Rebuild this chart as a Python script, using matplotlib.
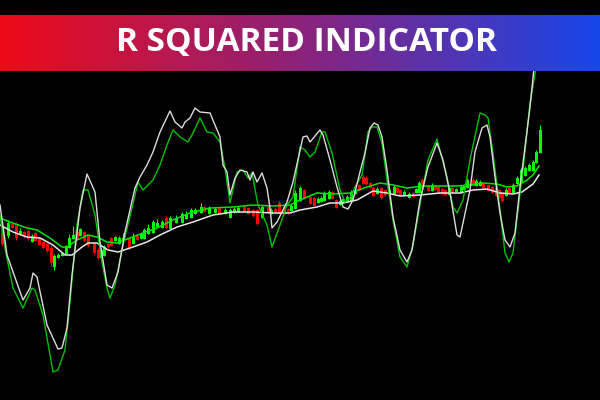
"""
R Squared indicator chart: candles, two moving averages and two oscillator lines.
Coordinates are read off the reference picture (x = bar position, y = screen level, top = 0).
"""

import matplotlib.pyplot as plt
import numpy as np
from matplotlib.colors import LinearSegmentedColormap

# ── Candles (x, open, close, high, low) ───────────────────────────────────────
candle_x = [2, 8, 12, 16, 20, 24, 28, 32, 35, 39, 43, 47, 51, 54, 58, 62, 66, 69, 73, 77,
            80, 84, 88, 94, 98, 101, 104, 108, 111, 115, 119, 123, 129, 133, 137, 141, 144, 148, 153, 157,
            162, 166, 170, 176, 182, 186, 191, 195, 201, 204, 209, 215, 219, 225, 230, 234, 238, 244, 248, 253,
            257, 262, 268, 271, 275, 279, 284, 288, 291, 295, 300, 304, 310, 314, 318, 321, 324, 329, 332, 336,
            340, 343, 347, 351, 355, 359, 363, 366, 370, 373, 377, 381, 385, 389, 394, 397, 400, 404, 409, 413,
            416, 419, 422, 428, 432, 435, 438, 442, 445, 449, 452, 456, 461, 464, 467, 473, 476, 480, 483, 488,
            492, 496, 499, 502, 506, 509, 513, 517, 521, 525, 529, 533, 536, 540]
candle_open = [230, 235, 224, 224, 233, 232, 231, 241, 233, 239, 242, 244, 248, 266, 257, 255, 253, 247, 238, 232,
               235, 232, 236, 243, 250, 257, 255, 244, 238, 240, 243, 240, 238, 243, 236, 238, 238, 233, 232, 226,
               227, 218, 228, 222, 222, 218, 217, 213, 212, 207, 213, 212, 208, 213, 217, 212, 211, 207, 208, 210,
               210, 217, 207, 213, 209, 203, 207, 209, 210, 208, 200, 190, 197, 198, 202, 201, 200, 198, 192, 200,
               204, 202, 201, 200, 193, 185, 177, 178, 183, 188, 193, 188, 190, 193, 193, 188, 190, 195, 197, 193,
               192, 192, 180, 186, 190, 186, 187, 189, 190, 194, 188, 191, 192, 189, 187, 180, 185, 185, 183, 185,
               187, 188, 190, 193, 195, 188, 192, 183, 182, 175, 170, 170, 162, 152]
candle_close = [243, 223, 227, 237, 231, 236, 238, 236, 240, 244, 247, 250, 262, 256, 255, 253, 246, 238, 235, 238,
                229, 240, 245, 252, 257, 250, 247, 246, 245, 237, 238, 238, 247, 237, 239, 234, 230, 228, 222, 223,
                222, 227, 218, 218, 214, 214, 210, 210, 207, 211, 208, 209, 213, 210, 210, 209, 208, 210, 213, 215,
                223, 207, 211, 210, 211, 212, 213, 212, 206, 193, 188, 198, 203, 205, 199, 198, 193, 192, 198, 207,
                201, 199, 197, 192, 190, 190, 183, 183, 187, 195, 189, 197, 194, 190, 187, 192, 194, 192, 194, 196,
                189, 183, 188, 190, 185, 189, 192, 193, 194, 188, 192, 189, 187, 186, 180, 185, 181, 182, 187, 190,
                192, 195, 197, 200, 190, 192, 185, 178, 170, 168, 165, 162, 152, 130]
candle_high = [228, 220, 223, 222, 228, 231, 229, 234, 232, 238, 241, 243, 245, 254, 253, 252, 245, 234, 226, 231,
               228, 231, 235, 242, 248, 248, 245, 243, 237, 236, 236, 233, 237, 233, 235, 232, 228, 224, 220, 219,
               220, 216, 216, 215, 212, 211, 208, 208, 203, 206, 206, 207, 207, 208, 208, 207, 206, 205, 207, 209,
               209, 205, 206, 208, 207, 201, 206, 208, 204, 190, 186, 189, 196, 197, 197, 196, 191, 190, 191, 199,
               199, 197, 195, 190, 188, 184, 175, 176, 182, 186, 187, 187, 189, 188, 185, 187, 189, 190, 192, 192,
               188, 181, 178, 185, 183, 185, 186, 188, 189, 186, 187, 188, 185, 184, 178, 178, 179, 180, 182, 184,
               186, 187, 189, 192, 188, 187, 183, 176, 168, 166, 163, 160, 150, 125]
candle_low = [246, 238, 228, 240, 235, 238, 240, 242, 241, 245, 248, 252, 266, 270, 258, 256, 254, 248, 239, 239,
              236, 241, 247, 254, 259, 258, 256, 248, 246, 241, 244, 241, 249, 244, 240, 239, 239, 234, 233, 227,
              228, 228, 229, 223, 223, 219, 218, 214, 213, 212, 214, 213, 214, 214, 218, 213, 212, 212, 214, 217,
              225, 218, 213, 214, 212, 213, 215, 214, 211, 209, 201, 199, 204, 206, 203, 202, 201, 199, 199, 208,
              205, 203, 202, 201, 194, 191, 184, 185, 188, 196, 194, 199, 196, 194, 194, 193, 195, 196, 198, 197,
              193, 193, 189, 191, 191, 190, 193, 194, 195, 195, 193, 192, 193, 190, 188, 186, 186, 186, 188, 191,
              193, 196, 198, 202, 196, 193, 193, 184, 183, 176, 171, 171, 163, 153]

# ── Moving averages (x, level) ────────────────────────────────────────────────
ma_green_x = [0, 10, 27, 37, 50, 62, 67, 77, 88, 97, 107, 117, 130, 143, 157, 173, 190, 210, 233, 253,
              273, 290, 300, 317, 333, 350, 367, 380, 393, 407, 423, 440, 457, 470, 483, 497, 507, 517, 527, 533, 539]
ma_green_y = [218, 222, 228, 230, 238, 247, 247, 240, 235, 237, 242, 243, 238, 233, 228, 220, 213, 208, 207, 205,
              206, 205, 200, 193, 194, 193, 187, 183, 185, 188, 186, 186, 186, 185, 183, 184, 187, 186, 180, 175, 166]
ma_white_x = [0, 13, 27, 40, 53, 65, 72, 82, 88, 97, 108, 118, 133, 147, 160, 177, 193, 213, 233, 253,
              273, 290, 300, 317, 330, 343, 357, 373, 387, 400, 420, 440, 460, 473, 487, 500, 513, 522, 533, 539]
ma_white_y = [225, 232, 237, 238, 245, 255, 255, 247, 243, 243, 250, 252, 247, 242, 235, 227, 222, 215, 212, 212,
              213, 213, 210, 207, 203, 203, 200, 191, 193, 196, 195, 193, 193, 190, 189, 193, 194, 192, 184, 175]

# ── Oscillators (x, level) ────────────────────────────────────────────────────
osc_white_x = [0, 7, 23, 30, 33, 37, 47, 58, 62, 67, 72, 80, 87, 95, 100, 107, 112, 118, 125, 135,
               140, 147, 153, 160, 170, 175, 182, 185, 190, 195, 200, 210, 215, 220, 223, 227, 230, 235, 240, 247,
               250, 253, 257, 262, 267, 270, 272, 277, 287, 293, 303, 307, 310, 320, 323, 330, 337, 343, 348, 353,
               360, 365, 370, 374, 378, 382, 387, 393, 400, 407, 412, 420, 428, 437, 443, 450, 457, 460, 463, 470,
               475, 482, 487, 490, 495, 500, 505, 510, 515, 520, 525, 530, 534]
osc_white_y = [205, 255, 300, 288, 273, 277, 325, 349, 348, 328, 275, 208, 174, 192, 242, 285, 288, 272, 232, 188,
               177, 165, 152, 132, 111, 122, 128, 122, 118, 108, 112, 113, 125, 137, 165, 172, 195, 178, 170, 172,
               180, 172, 182, 173, 188, 208, 228, 222, 202, 182, 137, 136, 142, 130, 135, 160, 187, 207, 209, 200,
               172, 153, 128, 123, 125, 137, 170, 217, 250, 262, 250, 200, 167, 143, 160, 193, 235, 237, 223, 190,
               152, 128, 125, 137, 177, 213, 240, 247, 233, 187, 147, 107, 68]
osc_green_x = [0, 5, 13, 23, 32, 35, 43, 53, 58, 65, 70, 77, 83, 88, 95, 102, 107, 110, 115, 123,
               132, 138, 143, 153, 160, 167, 173, 180, 188, 193, 200, 207, 213, 220, 225, 230, 237, 243, 248, 252,
               258, 267, 272, 280, 287, 293, 300, 305, 310, 315, 322, 325, 332, 340, 345, 350, 355, 362, 368, 372,
               377, 382, 388, 393, 400, 407, 413, 422, 428, 437, 447, 453, 457, 463, 470, 477, 480, 485, 488, 493,
               500, 505, 509, 513, 518, 523, 530, 536]
osc_green_y = [215, 248, 288, 308, 288, 290, 315, 372, 370, 350, 302, 225, 190, 190, 215, 262, 288, 298, 285, 245,
               208, 182, 190, 180, 165, 145, 130, 137, 142, 133, 118, 132, 133, 142, 168, 203, 172, 170, 178, 173,
               205, 225, 247, 225, 205, 197, 147, 150, 157, 152, 132, 132, 153, 190, 202, 198, 187, 175, 132, 127,
               127, 143, 187, 220, 257, 267, 245, 193, 160, 139, 177, 207, 213, 200, 160, 127, 113, 115, 118, 153,
               210, 253, 262, 253, 210, 170, 103, 68]

title = 'R SQUARED INDICATOR'

# ── Plot ──────────────────────────────────────────────────────────────────────
fig = plt.figure(figsize=(6, 4), dpi=100, facecolor='black')
ax = fig.add_axes([0, 0, 1, 1])
ax.set_facecolor('black')
ax.set_xlim(0, 600)
ax.set_ylim(400, 0)
ax.axis('off')

up_col, down_col = '#00ff00', '#ff0000'
for x, o, c, h, l in zip(candle_x, candle_open, candle_close, candle_high, candle_low):
    col = up_col if c < o else down_col
    ax.vlines(x, h, l, color=col, linewidth=0.8, zorder=2)
    ax.bar(x, abs(c - o) + 1, bottom=min(o, c) - 0.5, width=3, color=col, linewidth=0, zorder=2)

ax.plot(ma_green_x, ma_green_y, color='#00e400', linewidth=1.1, zorder=3)
ax.plot(ma_white_x, ma_white_y, color='#e8e8e8', linewidth=1.1, zorder=3)
ax.plot(osc_green_x, osc_green_y, color='#00c000', linewidth=1.0, zorder=4)
ax.plot(osc_white_x, osc_white_y, color='#dcdcdc', linewidth=1.0, zorder=4)

# banner with a red → purple → blue gradient
cmap = LinearSegmentedColormap.from_list('banner', ['#ee0a17', '#8c237a', '#1847ea'])
grad = np.linspace(0, 1, 256).reshape(1, -1)
ax.imshow(grad, cmap=cmap, aspect='auto', extent=(0, 600, 71, 15), zorder=10)
ax.text(306, 42, title, color='white', fontsize=24, fontweight='bold', family='Open Sans',
        ha='center', va='center', zorder=11)

fig.savefig('out.png', dpi=100, facecolor='black')
